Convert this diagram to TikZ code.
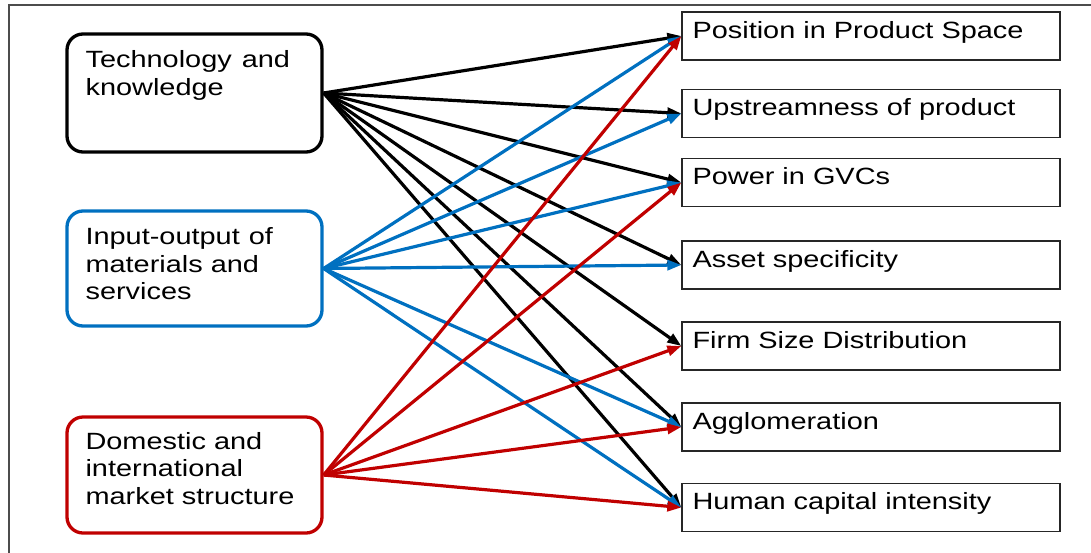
\documentclass[tikz,border=0pt]{standalone}
\usepackage{fontspec}
\setmainfont{Liberation Sans}[FakeStretch=1.23]
\usetikzlibrary{arrows.meta}
\definecolor{cblue}{RGB}{0,112,192}
\definecolor{cred}{RGB}{192,0,0}
\begin{document}
\begin{tikzpicture}[x=1pt,y=-1pt,
  lbox/.style={draw, line width=3.3pt, rounded corners=16pt, minimum width=255pt, inner sep=0pt},
  rbox/.style={draw=black!85, line width=1.3pt, minimum width=378pt, minimum height=48pt, inner sep=0pt},
  ltext/.style={anchor=north west, inner sep=0pt, align=left, font=\fontsize{23.5}{27.5}\selectfont},
  rtext/.style={anchor=base west, inner sep=0pt, font=\fontsize{23.5}{27.5}\selectfont},
  conn/.style={line width=3.2pt, -{Triangle[length=14pt,width=10pt]}},
]
\useasboundingbox (0,0) rectangle (1091,552);
\draw[black!70, line width=1.5pt] (9,5) rectangle (1100,560);

% left boxes
\node[lbox, draw=black, minimum height=118pt] (tech) at (194.5,93) {};
\node[lbox, draw=cblue, minimum height=115pt] (io) at (194.5,268.5) {};
\node[lbox, draw=cred, minimum height=116pt] (mkt) at (194.5,475) {};
\node[ltext] (techT) at ([xshift=20pt,yshift=-18pt]tech.north west) {Technology\hspace{10pt}and\\knowledge};
\node[ltext] (ioT) at ([xshift=20pt,yshift=-18pt]io.north west) {Input-output\hspace{9pt}of\\materials and\\services};
\node[ltext] (mktT) at ([xshift=20pt,yshift=-16.5pt]mkt.north west) {Domestic and\\international\\market structure};

% right boxes
\node[rbox] (pos) at (871,36) {};
\node[rbox] (up) at (871,113.5) {};
\node[rbox] (pow) at (871,182.5) {};
\node[rbox] (asset) at (871,265) {};
\node[rbox] (firm) at (871,346) {};
\node[rbox] (agg) at (871,427) {};
\node[rbox] (hum) at (871,507.5) {};
\node[rtext] at ([xshift=11pt,yshift=-27pt]pos.north west) {Position in Product Space};
\node[rtext] at ([xshift=11pt,yshift=-27pt]up.north west) {Upstreamness of product};
\node[rtext] at ([xshift=11pt,yshift=-27pt]pow.north west) {Power in GVCs};
\node[rtext] at ([xshift=11pt,yshift=-27pt]asset.north west) {Asset specificity};
\node[rtext] at ([xshift=11pt,yshift=-27pt]firm.north west) {Firm Size Distribution};
\node[rtext] at ([xshift=11pt,yshift=-27pt]agg.north west) {Agglomeration};
\node[rtext] at ([xshift=11pt,yshift=-27pt]hum.north west) {Human capital intensity};

% connectors
\foreach \t in {pos,up,pow,asset,firm,agg,hum}
  \draw[conn, black] (tech.east) -- (\t.west);
\foreach \t in {pos,up,pow,asset,agg,hum}
  \draw[conn, cblue] (io.east) -- (\t.west);
\foreach \t in {pos,pow,firm,agg,hum}
  \draw[conn, cred] (mkt.east) -- (\t.west);
\end{tikzpicture}
\end{document}
